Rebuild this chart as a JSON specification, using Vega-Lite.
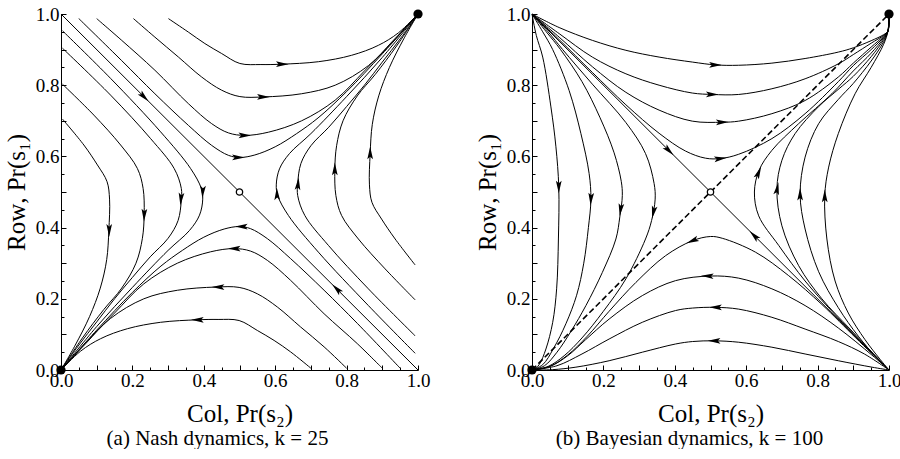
{
"$schema": "https://vega.github.io/schema/vega-lite/v6.json",
"background": "white",
"padding": {"left": 4, "top": 5, "right": 0, "bottom": 0},
"spacing": 114,
"bounds": "flush",
"config": {
  "view": {"stroke": null},
  "font": "Liberation Serif",
  "axis": {"grid": false, "domainColor": "black", "domainWidth": 1, "tickColor": "black", "tickWidth": 1, "labelColor": "black", "titleColor": "black", "labelFont": "Liberation Serif", "titleFont": "Liberation Serif", "labelFontSize": 19, "titleFontSize": 25, "titleFontWeight": "normal", "labelFlush": false, "labelOverlap": false},
  "title": {"font": "Liberation Serif", "fontSize": 21, "fontWeight": "normal", "color": "black"}
},
"datasets": {
  "nash": [
    {"c":"S","i":0,"x":0,"y":1},{"c":"S","i":1,"x":1,"y":0},
    {"c":"B1","i":0,"x":0.301,"y":0.987},{"c":"B1","i":1,"x":0.357,"y":0.949},{"c":"B1","i":2,"x":0.403,"y":0.917},{"c":"B1","i":3,"x":0.45,"y":0.889},{"c":"B1","i":4,"x":0.501,"y":0.861},{"c":"B1","i":5,"x":0.56,"y":0.858},{"c":"B1","i":6,"x":0.618,"y":0.859},{"c":"B1","i":7,"x":0.721,"y":0.866},{"c":"B1","i":8,"x":0.814,"y":0.884},{"c":"B1","i":9,"x":0.889,"y":0.912},{"c":"B1","i":10,"x":0.945,"y":0.947},{"c":"B1","i":11,"x":1,"y":1},
    {"c":"B2","i":0,"x":0.203,"y":0.987},{"c":"B2","i":1,"x":0.263,"y":0.935},{"c":"B2","i":2,"x":0.329,"y":0.879},{"c":"B2","i":3,"x":0.394,"y":0.823},{"c":"B2","i":4,"x":0.45,"y":0.786},{"c":"B2","i":5,"x":0.501,"y":0.768},{"c":"B2","i":6,"x":0.567,"y":0.767},{"c":"B2","i":7,"x":0.674,"y":0.776},{"c":"B2","i":8,"x":0.768,"y":0.8},{"c":"B2","i":9,"x":0.861,"y":0.855},{"c":"B2","i":10,"x":0.93,"y":0.925},{"c":"B2","i":11,"x":1,"y":1},
    {"c":"B3","i":0,"x":0.1,"y":0.987},{"c":"B3","i":1,"x":0.17,"y":0.926},{"c":"B3","i":2,"x":0.263,"y":0.842},{"c":"B3","i":3,"x":0.357,"y":0.748},{"c":"B3","i":4,"x":0.422,"y":0.692},{"c":"B3","i":5,"x":0.469,"y":0.666},{"c":"B3","i":6,"x":0.515,"y":0.659},{"c":"B3","i":7,"x":0.581,"y":0.668},{"c":"B3","i":8,"x":0.674,"y":0.7},{"c":"B3","i":9,"x":0.768,"y":0.758},{"c":"B3","i":10,"x":0.85,"y":0.84},{"c":"B3","i":11,"x":0.92,"y":0.912},{"c":"B3","i":12,"x":1,"y":1},
    {"c":"B4","i":0,"x":0.05,"y":0.987},{"c":"B4","i":1,"x":0.17,"y":0.869},{"c":"B4","i":2,"x":0.263,"y":0.776},{"c":"B4","i":3,"x":0.357,"y":0.687},{"c":"B4","i":4,"x":0.422,"y":0.631},{"c":"B4","i":5,"x":0.469,"y":0.603},{"c":"B4","i":6,"x":0.501,"y":0.597},{"c":"B4","i":7,"x":0.543,"y":0.604},{"c":"B4","i":8,"x":0.6,"y":0.627},{"c":"B4","i":9,"x":0.66,"y":0.664},{"c":"B4","i":10,"x":0.72,"y":0.708},{"c":"B4","i":11,"x":0.8,"y":0.782},{"c":"B4","i":12,"x":0.9,"y":0.888},{"c":"B4","i":13,"x":1,"y":1},
    {"c":"E1","i":0,"x":0.992,"y":0.295},{"c":"E1","i":1,"x":0.936,"y":0.368},{"c":"E1","i":2,"x":0.898,"y":0.424},{"c":"E1","i":3,"x":0.871,"y":0.471},{"c":"E1","i":4,"x":0.864,"y":0.52},{"c":"E1","i":5,"x":0.866,"y":0.608},{"c":"E1","i":6,"x":0.872,"y":0.69},{"c":"E1","i":7,"x":0.89,"y":0.77},{"c":"E1","i":8,"x":0.92,"y":0.85},{"c":"E1","i":9,"x":0.96,"y":0.93},{"c":"E1","i":10,"x":1,"y":1},
    {"c":"E2","i":0,"x":0.992,"y":0.197},{"c":"E2","i":1,"x":0.908,"y":0.284},{"c":"E2","i":2,"x":0.833,"y":0.368},{"c":"E2","i":3,"x":0.786,"y":0.434},{"c":"E2","i":4,"x":0.77,"y":0.49},{"c":"E2","i":5,"x":0.767,"y":0.561},{"c":"E2","i":6,"x":0.772,"y":0.63},{"c":"E2","i":7,"x":0.79,"y":0.7},{"c":"E2","i":8,"x":0.83,"y":0.77},{"c":"E2","i":9,"x":0.88,"y":0.83},{"c":"E2","i":10,"x":0.94,"y":0.91},{"c":"E2","i":11,"x":1,"y":1},
    {"c":"E3","i":0,"x":0.992,"y":0.096},{"c":"E3","i":1,"x":0.861,"y":0.228},{"c":"E3","i":2,"x":0.749,"y":0.35},{"c":"E3","i":3,"x":0.683,"y":0.434},{"c":"E3","i":4,"x":0.663,"y":0.49},{"c":"E3","i":5,"x":0.663,"y":0.523},{"c":"E3","i":6,"x":0.672,"y":0.58},{"c":"E3","i":7,"x":0.7,"y":0.63},{"c":"E3","i":8,"x":0.75,"y":0.682},{"c":"E3","i":9,"x":0.8,"y":0.74},{"c":"E3","i":10,"x":0.85,"y":0.8},{"c":"E3","i":11,"x":0.9,"y":0.865},{"c":"E3","i":12,"x":0.95,"y":0.93},{"c":"E3","i":13,"x":1,"y":1},
    {"c":"E4","i":0,"x":0.992,"y":0.047},{"c":"E4","i":1,"x":0.861,"y":0.181},{"c":"E4","i":2,"x":0.721,"y":0.331},{"c":"E4","i":3,"x":0.637,"y":0.434},{"c":"E4","i":4,"x":0.607,"y":0.49},{"c":"E4","i":5,"x":0.603,"y":0.52},{"c":"E4","i":6,"x":0.612,"y":0.565},{"c":"E4","i":7,"x":0.64,"y":0.608},{"c":"E4","i":8,"x":0.7,"y":0.664},{"c":"E4","i":9,"x":0.8,"y":0.768},{"c":"E4","i":10,"x":0.9,"y":0.878},{"c":"E4","i":11,"x":1,"y":1},
    {"c":"C1","i":0,"x":0.004,"y":0.705},{"c":"C1","i":1,"x":0.064,"y":0.632},{"c":"C1","i":2,"x":0.102,"y":0.576},{"c":"C1","i":3,"x":0.129,"y":0.529},{"c":"C1","i":4,"x":0.136,"y":0.48},{"c":"C1","i":5,"x":0.134,"y":0.392},{"c":"C1","i":6,"x":0.128,"y":0.31},{"c":"C1","i":7,"x":0.11,"y":0.23},{"c":"C1","i":8,"x":0.08,"y":0.15},{"c":"C1","i":9,"x":0.04,"y":0.07},{"c":"C1","i":10,"x":0,"y":0},
    {"c":"C2","i":0,"x":0.004,"y":0.803},{"c":"C2","i":1,"x":0.092,"y":0.716},{"c":"C2","i":2,"x":0.167,"y":0.632},{"c":"C2","i":3,"x":0.214,"y":0.566},{"c":"C2","i":4,"x":0.23,"y":0.51},{"c":"C2","i":5,"x":0.233,"y":0.439},{"c":"C2","i":6,"x":0.228,"y":0.37},{"c":"C2","i":7,"x":0.21,"y":0.3},{"c":"C2","i":8,"x":0.17,"y":0.23},{"c":"C2","i":9,"x":0.12,"y":0.17},{"c":"C2","i":10,"x":0.06,"y":0.09},{"c":"C2","i":11,"x":0,"y":0},
    {"c":"C3","i":0,"x":0.004,"y":0.904},{"c":"C3","i":1,"x":0.139,"y":0.772},{"c":"C3","i":2,"x":0.251,"y":0.65},{"c":"C3","i":3,"x":0.317,"y":0.566},{"c":"C3","i":4,"x":0.337,"y":0.51},{"c":"C3","i":5,"x":0.337,"y":0.477},{"c":"C3","i":6,"x":0.328,"y":0.42},{"c":"C3","i":7,"x":0.3,"y":0.37},{"c":"C3","i":8,"x":0.25,"y":0.318},{"c":"C3","i":9,"x":0.2,"y":0.26},{"c":"C3","i":10,"x":0.15,"y":0.2},{"c":"C3","i":11,"x":0.1,"y":0.135},{"c":"C3","i":12,"x":0.05,"y":0.07},{"c":"C3","i":13,"x":0,"y":0},
    {"c":"C4","i":0,"x":0.004,"y":0.953},{"c":"C4","i":1,"x":0.139,"y":0.819},{"c":"C4","i":2,"x":0.279,"y":0.669},{"c":"C4","i":3,"x":0.363,"y":0.566},{"c":"C4","i":4,"x":0.393,"y":0.51},{"c":"C4","i":5,"x":0.397,"y":0.48},{"c":"C4","i":6,"x":0.388,"y":0.435},{"c":"C4","i":7,"x":0.36,"y":0.392},{"c":"C4","i":8,"x":0.3,"y":0.336},{"c":"C4","i":9,"x":0.2,"y":0.232},{"c":"C4","i":10,"x":0.1,"y":0.122},{"c":"C4","i":11,"x":0,"y":0},
    {"c":"D1","i":0,"x":0.7,"y":0.005},{"c":"D1","i":1,"x":0.643,"y":0.051},{"c":"D1","i":2,"x":0.597,"y":0.083},{"c":"D1","i":3,"x":0.55,"y":0.111},{"c":"D1","i":4,"x":0.499,"y":0.139},{"c":"D1","i":5,"x":0.44,"y":0.142},{"c":"D1","i":6,"x":0.382,"y":0.141},{"c":"D1","i":7,"x":0.279,"y":0.134},{"c":"D1","i":8,"x":0.186,"y":0.116},{"c":"D1","i":9,"x":0.111,"y":0.088},{"c":"D1","i":10,"x":0.055,"y":0.053},{"c":"D1","i":11,"x":0,"y":0},
    {"c":"D2","i":0,"x":0.8,"y":0.005},{"c":"D2","i":1,"x":0.737,"y":0.065},{"c":"D2","i":2,"x":0.671,"y":0.121},{"c":"D2","i":3,"x":0.606,"y":0.177},{"c":"D2","i":4,"x":0.55,"y":0.214},{"c":"D2","i":5,"x":0.499,"y":0.232},{"c":"D2","i":6,"x":0.433,"y":0.233},{"c":"D2","i":7,"x":0.326,"y":0.224},{"c":"D2","i":8,"x":0.232,"y":0.2},{"c":"D2","i":9,"x":0.139,"y":0.145},{"c":"D2","i":10,"x":0.07,"y":0.075},{"c":"D2","i":11,"x":0,"y":0},
    {"c":"D3","i":0,"x":0.9,"y":0.005},{"c":"D3","i":1,"x":0.83,"y":0.074},{"c":"D3","i":2,"x":0.737,"y":0.158},{"c":"D3","i":3,"x":0.643,"y":0.252},{"c":"D3","i":4,"x":0.578,"y":0.308},{"c":"D3","i":5,"x":0.531,"y":0.334},{"c":"D3","i":6,"x":0.485,"y":0.341},{"c":"D3","i":7,"x":0.419,"y":0.332},{"c":"D3","i":8,"x":0.326,"y":0.3},{"c":"D3","i":9,"x":0.232,"y":0.242},{"c":"D3","i":10,"x":0.15,"y":0.16},{"c":"D3","i":11,"x":0.08,"y":0.088},{"c":"D3","i":12,"x":0,"y":0},
    {"c":"D4","i":0,"x":0.95,"y":0.005},{"c":"D4","i":1,"x":0.83,"y":0.131},{"c":"D4","i":2,"x":0.737,"y":0.224},{"c":"D4","i":3,"x":0.643,"y":0.313},{"c":"D4","i":4,"x":0.578,"y":0.369},{"c":"D4","i":5,"x":0.531,"y":0.397},{"c":"D4","i":6,"x":0.499,"y":0.403},{"c":"D4","i":7,"x":0.457,"y":0.396},{"c":"D4","i":8,"x":0.4,"y":0.373},{"c":"D4","i":9,"x":0.34,"y":0.336},{"c":"D4","i":10,"x":0.28,"y":0.292},{"c":"D4","i":11,"x":0.2,"y":0.218},{"c":"D4","i":12,"x":0.1,"y":0.112},{"c":"D4","i":13,"x":0,"y":0}
  ],
  "nashArr": [
    {"x":0.233,"y":0.767,"a":45},{"x":0.772,"y":0.228,"a":225},
    {"x":0.62,"y":0.859,"a":0},{"x":0.567,"y":0.767,"a":0},{"x":0.515,"y":0.659,"a":0},{"x":0.497,"y":0.597,"a":0},
    {"x":0.135,"y":0.392,"a":90},{"x":0.233,"y":0.435,"a":92},{"x":0.336,"y":0.48,"a":95},{"x":0.397,"y":0.5,"a":93},
    {"x":0.382,"y":0.141,"a":180},{"x":0.44,"y":0.233,"a":180},{"x":0.485,"y":0.341,"a":180},{"x":0.505,"y":0.403,"a":180},
    {"x":0.866,"y":0.61,"a":270},{"x":0.767,"y":0.565,"a":270},{"x":0.664,"y":0.523,"a":275},{"x":0.605,"y":0.495,"a":268}
  ],
  "pts": [{"x":0,"y":0,"k":"s"},{"x":1,"y":1,"k":"s"},{"x":0.5,"y":0.5,"k":"u"}],
  "diag": [{"i":0,"x":0,"y":0},{"i":1,"x":1,"y":1}],
  "bayes": [
    {"c":"S","i":0,"x":0,"y":1},{"c":"S","i":1,"x":1,"y":0},
    {"c":"T1","i":0,"x":0,"y":1},{"c":"T1","i":1,"x":0.076,"y":0.962},{"c":"T1","i":2,"x":0.169,"y":0.926},{"c":"T1","i":3,"x":0.263,"y":0.898},{"c":"T1","i":4,"x":0.356,"y":0.879},{"c":"T1","i":5,"x":0.449,"y":0.865},{"c":"T1","i":6,"x":0.514,"y":0.857},{"c":"T1","i":7,"x":0.579,"y":0.856},{"c":"T1","i":8,"x":0.672,"y":0.862},{"c":"T1","i":9,"x":0.765,"y":0.875},{"c":"T1","i":10,"x":0.858,"y":0.893},{"c":"T1","i":11,"x":0.9,"y":0.905},{"c":"T1","i":12,"x":0.95,"y":0.925},{"c":"T1","i":13,"x":0.985,"y":0.942},{"c":"T1","i":14,"x":0.997,"y":0.952},{"c":"T1","i":15,"x":1,"y":1},
    {"c":"T2","i":0,"x":0,"y":1},{"c":"T2","i":1,"x":0.076,"y":0.945},{"c":"T2","i":2,"x":0.169,"y":0.879},{"c":"T2","i":3,"x":0.263,"y":0.832},{"c":"T2","i":4,"x":0.356,"y":0.8},{"c":"T2","i":5,"x":0.449,"y":0.778},{"c":"T2","i":6,"x":0.505,"y":0.774},{"c":"T2","i":7,"x":0.579,"y":0.774},{"c":"T2","i":8,"x":0.672,"y":0.79},{"c":"T2","i":9,"x":0.765,"y":0.818},{"c":"T2","i":10,"x":0.858,"y":0.86},{"c":"T2","i":11,"x":0.9,"y":0.886},{"c":"T2","i":12,"x":0.95,"y":0.918},{"c":"T2","i":13,"x":0.985,"y":0.94},{"c":"T2","i":14,"x":0.997,"y":0.952},{"c":"T2","i":15,"x":1,"y":1},
    {"c":"T3","i":0,"x":0,"y":1},{"c":"T3","i":1,"x":0.076,"y":0.935},{"c":"T3","i":2,"x":0.169,"y":0.852},{"c":"T3","i":3,"x":0.263,"y":0.78},{"c":"T3","i":4,"x":0.356,"y":0.73},{"c":"T3","i":5,"x":0.449,"y":0.699},{"c":"T3","i":6,"x":0.533,"y":0.696},{"c":"T3","i":7,"x":0.579,"y":0.699},{"c":"T3","i":8,"x":0.672,"y":0.72},{"c":"T3","i":9,"x":0.765,"y":0.757},{"c":"T3","i":10,"x":0.858,"y":0.823},{"c":"T3","i":11,"x":0.9,"y":0.862},{"c":"T3","i":12,"x":0.95,"y":0.907},{"c":"T3","i":13,"x":0.985,"y":0.938},{"c":"T3","i":14,"x":0.997,"y":0.952},{"c":"T3","i":15,"x":1,"y":1},
    {"c":"T4","i":0,"x":0,"y":1},{"c":"T4","i":1,"x":0.076,"y":0.928},{"c":"T4","i":2,"x":0.169,"y":0.836},{"c":"T4","i":3,"x":0.263,"y":0.745},{"c":"T4","i":4,"x":0.356,"y":0.665},{"c":"T4","i":5,"x":0.43,"y":0.615},{"c":"T4","i":6,"x":0.486,"y":0.595},{"c":"T4","i":7,"x":0.528,"y":0.594},{"c":"T4","i":8,"x":0.579,"y":0.606},{"c":"T4","i":9,"x":0.672,"y":0.65},{"c":"T4","i":10,"x":0.765,"y":0.72},{"c":"T4","i":11,"x":0.858,"y":0.81},{"c":"T4","i":12,"x":0.9,"y":0.855},{"c":"T4","i":13,"x":0.95,"y":0.9},{"c":"T4","i":14,"x":0.985,"y":0.935},{"c":"T4","i":15,"x":0.997,"y":0.952},{"c":"T4","i":16,"x":1,"y":1},
    {"c":"L1","i":0,"x":0,"y":1},{"c":"L1","i":1,"x":0.012,"y":0.94},{"c":"L1","i":2,"x":0.03,"y":0.879},{"c":"L1","i":3,"x":0.053,"y":0.739},{"c":"L1","i":4,"x":0.067,"y":0.627},{"c":"L1","i":5,"x":0.075,"y":0.514},{"c":"L1","i":6,"x":0.074,"y":0.368},{"c":"L1","i":7,"x":0.069,"y":0.228},{"c":"L1","i":8,"x":0.058,"y":0.134},{"c":"L1","i":9,"x":0.039,"y":0.059},{"c":"L1","i":10,"x":0.02,"y":0.015},{"c":"L1","i":11,"x":0.005,"y":0.001},{"c":"L1","i":12,"x":0,"y":0},
    {"c":"L2","i":0,"x":0,"y":1},{"c":"L2","i":1,"x":0.03,"y":0.95},{"c":"L2","i":2,"x":0.058,"y":0.9},{"c":"L2","i":3,"x":0.104,"y":0.785},{"c":"L2","i":4,"x":0.137,"y":0.664},{"c":"L2","i":5,"x":0.16,"y":0.552},{"c":"L2","i":6,"x":0.165,"y":0.48},{"c":"L2","i":7,"x":0.158,"y":0.4},{"c":"L2","i":8,"x":0.145,"y":0.3},{"c":"L2","i":9,"x":0.125,"y":0.21},{"c":"L2","i":10,"x":0.095,"y":0.13},{"c":"L2","i":11,"x":0.06,"y":0.06},{"c":"L2","i":12,"x":0.03,"y":0.015},{"c":"L2","i":13,"x":0,"y":0},
    {"c":"L3","i":0,"x":0,"y":1},{"c":"L3","i":1,"x":0.04,"y":0.95},{"c":"L3","i":2,"x":0.08,"y":0.9},{"c":"L3","i":3,"x":0.14,"y":0.81},{"c":"L3","i":4,"x":0.19,"y":0.71},{"c":"L3","i":5,"x":0.23,"y":0.61},{"c":"L3","i":6,"x":0.25,"y":0.53},{"c":"L3","i":7,"x":0.253,"y":0.49},{"c":"L3","i":8,"x":0.246,"y":0.43},{"c":"L3","i":9,"x":0.235,"y":0.368},{"c":"L3","i":10,"x":0.197,"y":0.274},{"c":"L3","i":11,"x":0.151,"y":0.181},{"c":"L3","i":12,"x":0.11,"y":0.11},{"c":"L3","i":13,"x":0.07,"y":0.05},{"c":"L3","i":14,"x":0.035,"y":0.012},{"c":"L3","i":15,"x":0,"y":0},
    {"c":"L4","i":0,"x":0,"y":1},{"c":"L4","i":1,"x":0.045,"y":0.95},{"c":"L4","i":2,"x":0.086,"y":0.9},{"c":"L4","i":3,"x":0.169,"y":0.803},{"c":"L4","i":4,"x":0.263,"y":0.695},{"c":"L4","i":5,"x":0.318,"y":0.608},{"c":"L4","i":6,"x":0.342,"y":0.524},{"c":"L4","i":7,"x":0.345,"y":0.48},{"c":"L4","i":8,"x":0.335,"y":0.42},{"c":"L4","i":9,"x":0.318,"y":0.368},{"c":"L4","i":10,"x":0.263,"y":0.256},{"c":"L4","i":11,"x":0.2,"y":0.165},{"c":"L4","i":12,"x":0.14,"y":0.09},{"c":"L4","i":13,"x":0.09,"y":0.04},{"c":"L4","i":14,"x":0.045,"y":0.01},{"c":"L4","i":15,"x":0,"y":0},
    {"c":"O1","i":0,"x":1,"y":0},{"c":"O1","i":1,"x":0.952,"y":0.008},{"c":"O1","i":2,"x":0.858,"y":0.026},{"c":"O1","i":3,"x":0.765,"y":0.045},{"c":"O1","i":4,"x":0.672,"y":0.064},{"c":"O1","i":5,"x":0.579,"y":0.078},{"c":"O1","i":6,"x":0.51,"y":0.082},{"c":"O1","i":7,"x":0.45,"y":0.08},{"c":"O1","i":8,"x":0.402,"y":0.073},{"c":"O1","i":9,"x":0.309,"y":0.05},{"c":"O1","i":10,"x":0.216,"y":0.026},{"c":"O1","i":11,"x":0.123,"y":0.008},{"c":"O1","i":12,"x":0.058,"y":0.001},{"c":"O1","i":13,"x":0,"y":0},
    {"c":"O2","i":0,"x":1,"y":0},{"c":"O2","i":1,"x":0.931,"y":0.045},{"c":"O2","i":2,"x":0.858,"y":0.08},{"c":"O2","i":3,"x":0.765,"y":0.115},{"c":"O2","i":4,"x":0.672,"y":0.148},{"c":"O2","i":5,"x":0.579,"y":0.171},{"c":"O2","i":6,"x":0.514,"y":0.176},{"c":"O2","i":7,"x":0.45,"y":0.174},{"c":"O2","i":8,"x":0.402,"y":0.167},{"c":"O2","i":9,"x":0.309,"y":0.134},{"c":"O2","i":10,"x":0.216,"y":0.087},{"c":"O2","i":11,"x":0.14,"y":0.045},{"c":"O2","i":12,"x":0.07,"y":0.012},{"c":"O2","i":13,"x":0,"y":0},
    {"c":"O3","i":0,"x":1,"y":0},{"c":"O3","i":1,"x":0.952,"y":0.042},{"c":"O3","i":2,"x":0.858,"y":0.118},{"c":"O3","i":3,"x":0.765,"y":0.181},{"c":"O3","i":4,"x":0.672,"y":0.228},{"c":"O3","i":5,"x":0.579,"y":0.258},{"c":"O3","i":6,"x":0.5,"y":0.264},{"c":"O3","i":7,"x":0.402,"y":0.251},{"c":"O3","i":8,"x":0.309,"y":0.209},{"c":"O3","i":9,"x":0.216,"y":0.143},{"c":"O3","i":10,"x":0.15,"y":0.085},{"c":"O3","i":11,"x":0.1,"y":0.04},{"c":"O3","i":12,"x":0.05,"y":0.01},{"c":"O3","i":13,"x":0,"y":0},
    {"c":"O4","i":0,"x":1,"y":0},{"c":"O4","i":1,"x":0.95,"y":0.048},{"c":"O4","i":2,"x":0.905,"y":0.092},{"c":"O4","i":3,"x":0.812,"y":0.184},{"c":"O4","i":4,"x":0.719,"y":0.265},{"c":"O4","i":5,"x":0.626,"y":0.331},{"c":"O4","i":6,"x":0.533,"y":0.37},{"c":"O4","i":7,"x":0.5,"y":0.375},{"c":"O4","i":8,"x":0.449,"y":0.363},{"c":"O4","i":9,"x":0.374,"y":0.321},{"c":"O4","i":10,"x":0.291,"y":0.246},{"c":"O4","i":11,"x":0.216,"y":0.165},{"c":"O4","i":12,"x":0.155,"y":0.095},{"c":"O4","i":13,"x":0.1,"y":0.042},{"c":"O4","i":14,"x":0.05,"y":0.01},{"c":"O4","i":15,"x":0,"y":0},
    {"c":"R1","i":0,"x":1,"y":0},{"c":"R1","i":1,"x":0.975,"y":0.03},{"c":"R1","i":2,"x":0.933,"y":0.085},{"c":"R1","i":3,"x":0.886,"y":0.16},{"c":"R1","i":4,"x":0.849,"y":0.25},{"c":"R1","i":5,"x":0.826,"y":0.368},{"c":"R1","i":6,"x":0.82,"y":0.489},{"c":"R1","i":7,"x":0.831,"y":0.57},{"c":"R1","i":8,"x":0.858,"y":0.664},{"c":"R1","i":9,"x":0.905,"y":0.776},{"c":"R1","i":10,"x":0.95,"y":0.85},{"c":"R1","i":11,"x":0.985,"y":0.915},{"c":"R1","i":12,"x":0.997,"y":0.952},{"c":"R1","i":13,"x":1,"y":1},
    {"c":"R2","i":0,"x":1,"y":0},{"c":"R2","i":1,"x":0.965,"y":0.035},{"c":"R2","i":2,"x":0.914,"y":0.095},{"c":"R2","i":3,"x":0.858,"y":0.175},{"c":"R2","i":4,"x":0.803,"y":0.276},{"c":"R2","i":5,"x":0.765,"y":0.396},{"c":"R2","i":6,"x":0.751,"y":0.494},{"c":"R2","i":7,"x":0.765,"y":0.598},{"c":"R2","i":8,"x":0.803,"y":0.692},{"c":"R2","i":9,"x":0.858,"y":0.76},{"c":"R2","i":10,"x":0.9,"y":0.805},{"c":"R2","i":11,"x":0.95,"y":0.868},{"c":"R2","i":12,"x":0.985,"y":0.922},{"c":"R2","i":13,"x":0.997,"y":0.952},{"c":"R2","i":14,"x":1,"y":1},
    {"c":"R3","i":0,"x":1,"y":0},{"c":"R3","i":1,"x":0.955,"y":0.047},{"c":"R3","i":2,"x":0.891,"y":0.115},{"c":"R3","i":3,"x":0.812,"y":0.2},{"c":"R3","i":4,"x":0.747,"y":0.293},{"c":"R3","i":5,"x":0.7,"y":0.405},{"c":"R3","i":6,"x":0.686,"y":0.508},{"c":"R3","i":7,"x":0.7,"y":0.589},{"c":"R3","i":8,"x":0.737,"y":0.664},{"c":"R3","i":9,"x":0.803,"y":0.74},{"c":"R3","i":10,"x":0.86,"y":0.79},{"c":"R3","i":11,"x":0.9,"y":0.825},{"c":"R3","i":12,"x":0.95,"y":0.88},{"c":"R3","i":13,"x":0.985,"y":0.928},{"c":"R3","i":14,"x":0.997,"y":0.952},{"c":"R3","i":15,"x":1,"y":1},
    {"c":"R4","i":0,"x":1,"y":0},{"c":"R4","i":1,"x":0.95,"y":0.051},{"c":"R4","i":2,"x":0.9,"y":0.102},{"c":"R4","i":3,"x":0.84,"y":0.165},{"c":"R4","i":4,"x":0.765,"y":0.25},{"c":"R4","i":5,"x":0.691,"y":0.35},{"c":"R4","i":6,"x":0.635,"y":0.433},{"c":"R4","i":7,"x":0.623,"y":0.5},{"c":"R4","i":8,"x":0.636,"y":0.561},{"c":"R4","i":9,"x":0.672,"y":0.617},{"c":"R4","i":10,"x":0.747,"y":0.692},{"c":"R4","i":11,"x":0.84,"y":0.776},{"c":"R4","i":12,"x":0.9,"y":0.84},{"c":"R4","i":13,"x":0.95,"y":0.89},{"c":"R4","i":14,"x":0.985,"y":0.932},{"c":"R4","i":15,"x":0.997,"y":0.952},{"c":"R4","i":16,"x":1,"y":1}
  ],
  "bayesArr": [
    {"x":0.384,"y":0.616,"a":45},{"x":0.622,"y":0.378,"a":225},
    {"x":0.514,"y":0.857,"a":0},{"x":0.505,"y":0.774,"a":0},{"x":0.533,"y":0.696,"a":358},{"x":0.528,"y":0.594,"a":352},
    {"x":0.075,"y":0.514,"a":90},{"x":0.165,"y":0.48,"a":93},{"x":0.248,"y":0.45,"a":98},{"x":0.34,"y":0.443,"a":102},
    {"x":0.51,"y":0.082,"a":180},{"x":0.514,"y":0.176,"a":180},{"x":0.491,"y":0.264,"a":182},{"x":0.449,"y":0.363,"a":157},
    {"x":0.82,"y":0.489,"a":270},{"x":0.751,"y":0.494,"a":270},{"x":0.687,"y":0.51,"a":280},{"x":0.635,"y":0.555,"a":293}
  ]
},
"hconcat": [
  {
    "width": 357, "height": 356,
    "title": {"text": "(a)  Nash dynamics, k = 25", "orient": "bottom", "anchor": "middle", "frame": "group", "dx": -22, "offset": 2},
    "encoding": {
      "x": {"field": "x", "type": "quantitative", "scale": {"domain": [0, 1], "nice": false, "zero": false},
        "axis": {"title": "Col, Pr(s₂)", "values": [0,0.05,0.1,0.15,0.2,0.25,0.3,0.35,0.4,0.45,0.5,0.55,0.6,0.65,0.7,0.75,0.8,0.85,0.9,0.95,1], "labelExpr": "round(datum.value*100) % 20 == 0 ? format(datum.value, '.1f') : ''", "tickSize": {"condition": {"test": "round(datum.value*100) % 10 == 0", "value": -5}, "value": -3}, "labelPadding": 6, "titlePadding": 9}},
      "y": {"field": "y", "type": "quantitative", "scale": {"domain": [0, 1], "nice": false, "zero": false},
        "axis": {"title": "Rᴏᴡ, Pr(s₁)", "values": [0,0.05,0.1,0.15,0.2,0.25,0.3,0.35,0.4,0.45,0.5,0.55,0.6,0.65,0.7,0.75,0.8,0.85,0.9,0.95,1], "labelExpr": "round(datum.value*100) % 20 == 0 ? format(datum.value, '.1f') : ''", "tickSize": {"condition": {"test": "round(datum.value*100) % 10 == 0", "value": -5}, "value": -3}, "labelPadding": 7, "titlePadding": 6}}
    },
    "layer": [
      {"data": {"name": "nash"}, "mark": {"type": "line", "color": "black", "strokeWidth": 1, "interpolate": "catmull-rom"}, "encoding": {"detail": {"field": "c"}, "order": {"field": "i", "type": "quantitative"}}},
      {"data": {"name": "nashArr"}, "mark": {"type": "point", "shape": "M1,0L-1,-0.45L-0.6,0L-1,0.45Z", "filled": true, "color": "black", "size": 160, "strokeWidth": 0, "opacity": 1}, "encoding": {"angle": {"field": "a", "type": "quantitative", "scale": null}}},
      {"data": {"name": "pts"}, "transform": [{"filter": "datum.k == 's'"}], "mark": {"type": "circle", "color": "black", "size": 85, "opacity": 1}},
      {"data": {"name": "pts"}, "transform": [{"filter": "datum.k == 'u'"}], "mark": {"type": "circle", "fill": "white", "stroke": "black", "strokeWidth": 1.3, "size": 40, "opacity": 1}}
    ]
  },
  {
    "width": 357, "height": 356,
    "title": {"text": "(b)  Bayesian dynamics, k = 100", "orient": "bottom", "anchor": "middle", "frame": "group", "dx": -21, "offset": 2},
    "encoding": {
      "x": {"field": "x", "type": "quantitative", "scale": {"domain": [0, 1], "nice": false, "zero": false},
        "axis": {"title": "Col, Pr(s₂)", "values": [0,0.05,0.1,0.15,0.2,0.25,0.3,0.35,0.4,0.45,0.5,0.55,0.6,0.65,0.7,0.75,0.8,0.85,0.9,0.95,1], "labelExpr": "round(datum.value*100) % 20 == 0 ? format(datum.value, '.1f') : ''", "tickSize": {"condition": {"test": "round(datum.value*100) % 10 == 0", "value": -5}, "value": -3}, "labelPadding": 6, "titlePadding": 9}},
      "y": {"field": "y", "type": "quantitative", "scale": {"domain": [0, 1], "nice": false, "zero": false},
        "axis": {"title": "Rᴏᴡ, Pr(s₁)", "values": [0,0.05,0.1,0.15,0.2,0.25,0.3,0.35,0.4,0.45,0.5,0.55,0.6,0.65,0.7,0.75,0.8,0.85,0.9,0.95,1], "labelExpr": "round(datum.value*100) % 20 == 0 ? format(datum.value, '.1f') : ''", "tickSize": {"condition": {"test": "round(datum.value*100) % 10 == 0", "value": -5}, "value": -3}, "labelPadding": 7, "titlePadding": 6}}
    },
    "layer": [
      {"data": {"name": "bayes"}, "mark": {"type": "line", "color": "black", "strokeWidth": 1, "interpolate": "catmull-rom"}, "encoding": {"detail": {"field": "c"}, "order": {"field": "i", "type": "quantitative"}}},
      {"data": {"name": "diag"}, "mark": {"type": "line", "color": "black", "strokeWidth": 1.6, "strokeDash": [6, 3]}, "encoding": {"order": {"field": "i", "type": "quantitative"}}},
      {"data": {"name": "bayesArr"}, "mark": {"type": "point", "shape": "M1,0L-1,-0.45L-0.6,0L-1,0.45Z", "filled": true, "color": "black", "size": 160, "strokeWidth": 0, "opacity": 1}, "encoding": {"angle": {"field": "a", "type": "quantitative", "scale": null}}},
      {"data": {"name": "pts"}, "transform": [{"filter": "datum.k == 's'"}], "mark": {"type": "circle", "color": "black", "size": 85, "opacity": 1}},
      {"data": {"name": "pts"}, "transform": [{"filter": "datum.k == 'u'"}], "mark": {"type": "circle", "fill": "white", "stroke": "black", "strokeWidth": 1.3, "size": 40, "opacity": 1}}
    ]
  }
]
}
